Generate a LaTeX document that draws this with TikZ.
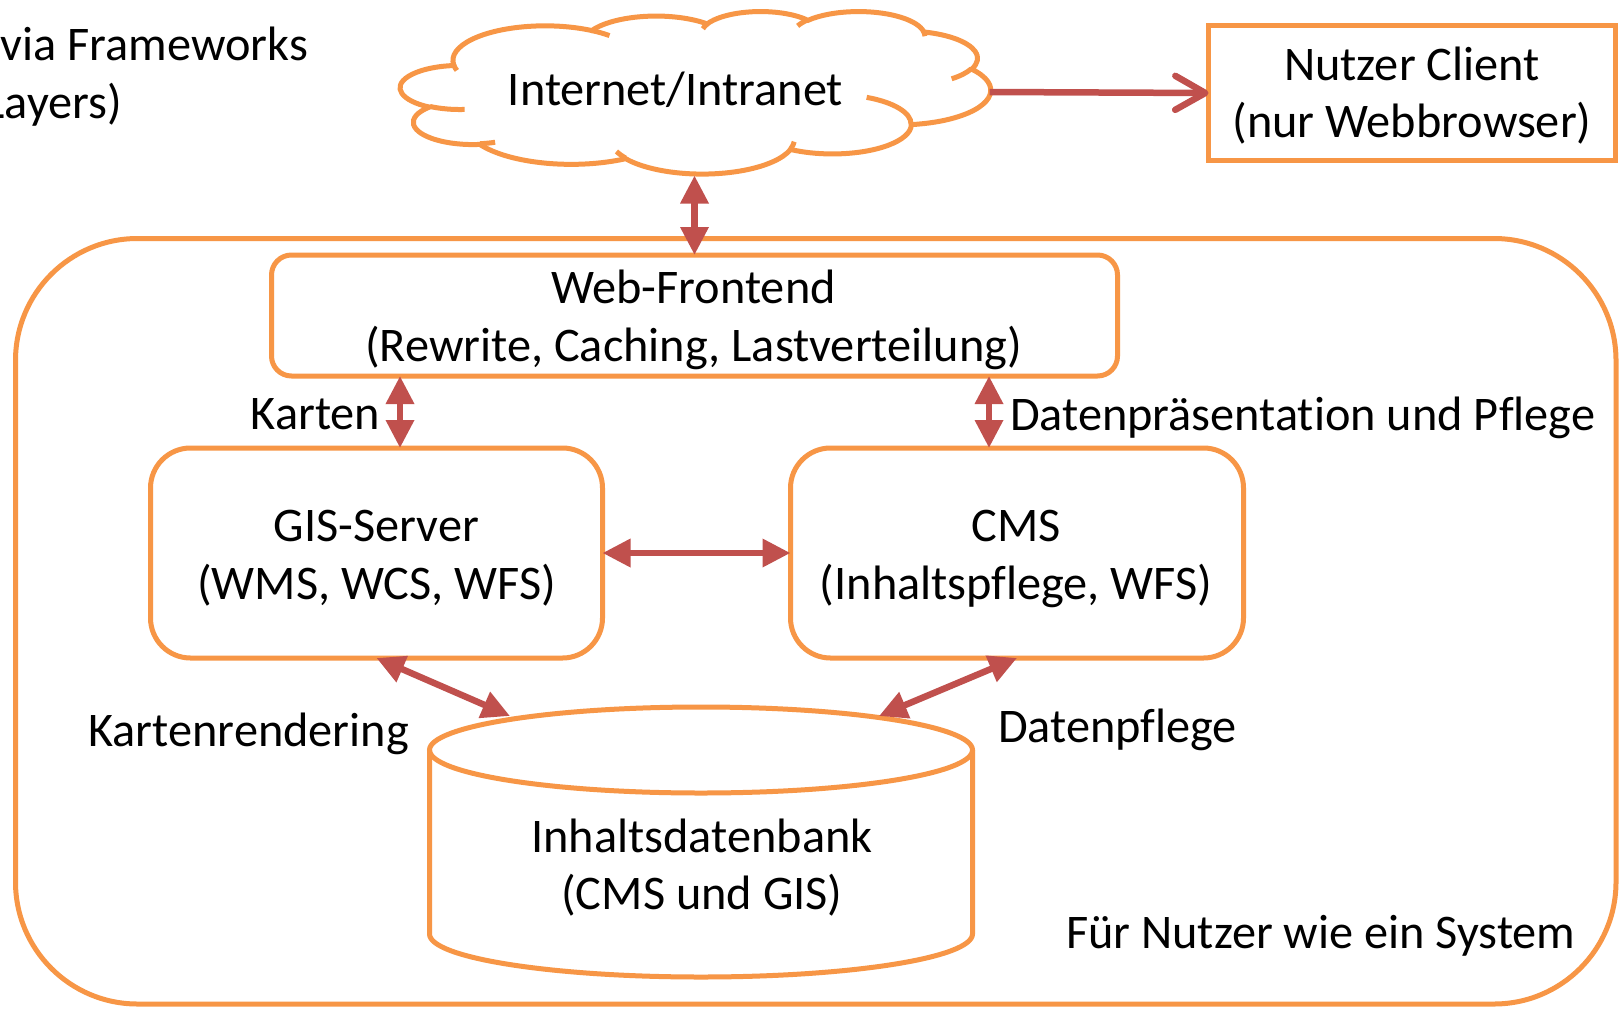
\documentclass[tikz,border=0pt]{standalone}
\usepackage{fontspec}
\setmainfont{Carlito}[Ligatures={NoCommon,NoRare},Contextuals=NoAlternate]
\usetikzlibrary{arrows.meta}
\definecolor{boxorange}{HTML}{F79646}
\definecolor{arrowred}{HTML}{C0504D}
% DrawingML-like arcTo: wR hR stAng swAng (degrees, visual angles)
\newcommand\ooarc[4]{%
  \pgfextra{%
    \pgfmathsetmacro\ooTa{atan2((#1)*sin(#3),(#2)*cos(#3))}%
    \pgfmathsetmacro\ooTb{atan2((#1)*sin((#3)+(#4)),(#2)*cos((#3)+(#4)))}%
    \pgfmathsetmacro\ooD{mod((\ooTb)-(\ooTa)+720,360)}%
    \global\let\ooTa\ooTa \global\let\ooD\ooD}%
  arc[start angle=\ooTa, delta angle=\ooD, x radius=#1, y radius=#2]}
\begin{document}
\begin{tikzpicture}[x=1pt,y=-1pt,
  every node/.style={inner sep=0pt, outer sep=0pt, font=\fontsize{48.3}{57}\selectfont},
  obox/.style={draw=boxorange, line width=5pt, fill=white},
  oline/.style={draw=boxorange, line width=5pt},
  txt/.style={anchor=base},
  dbl/.style={draw=arrowred, line width=6.5pt,
    {Triangle[length=28pt,width=27pt]}-{Triangle[length=28pt,width=27pt]}},
  single/.style={draw=arrowred, line width=6.5pt,
    -{Straight Barb[length=30pt,width=34pt,round]}}]
\useasboundingbox (0,0) rectangle (1621,1009);
\clip (0,0) rectangle (1621,1009);

% outer system frame
\node[obox, rounded corners=122pt, minimum width=1600.5pt, minimum height=765.5pt] (system) at (815.75,621.25) {};

% cloud
\begin{scope}[shift={(400.5,11)}, x=0.136574pt, y=-0.0376157pt]
  \draw[obox] (390,1437)
    \ooarc{675.3}{919.0}{-190.4875}{123.7805}
    \ooarc{533.3}{726.7}{-144.1024}{89.9452}
    \ooarc{436.5}{594.5}{-145.8079}{99.7230}
    \ooarc{485.7}{659.5}{-130.9861}{117.2417}
    \ooarc{533.3}{727.3}{-78.7089}{109.0269}
    \ooarc{677.5}{922.0}{-46.2673}{130.2690}
    \ooarc{578.5}{786.7}{0.6250}{114.0333}
    \ooarc{675.2}{921.5}{22.4516}{115.1726}
    \ooarc{772.0}{1054.3}{66.2426}{75.7110}
    \ooarc{436.0}{591.8}{-274.9421}{146.7356}
    \ooarc{434.5}{594.5}{-246.8285}{152.5189}
    -- cycle;
  \draw[oline]
    (469.3,2617.7) \ooarc{434.5}{594.5}{86.742}{26.4295}
    (692.8,3489.9) \ooarc{436.0}{591.8}{73.6105}{11.4475}
    (1647.8,3909.0) \ooarc{675.2}{921.5}{137.6242}{14.0811}
    (2882.7,3475.1) \ooarc{675.2}{921.5}{6.4533}{15.9984}
    (3412.9,2295.4) \ooarc{578.5}{786.7}{-70.2924}{70.9174}
    (4179.8,1535.4) \ooarc{533.3}{727.3}{30.3180}{27.7515}
    (3832.4,542.6) \ooarc{485.7}{659.5}{-13.7443}{14.8589}
    (2907.8,395.2) \ooarc{485.7}{659.5}{-149.1815}{18.1954}
    (2214.1,472.0) \ooarc{436.5}{594.5}{-163.4943}{17.6864}
    (1400.0,519.2) \ooarc{675.3}{919.0}{-66.7070}{12.3194}
    (412.7,1578.9) \ooarc{675.3}{919.0}{157.6544}{11.8582};
\end{scope}
\node[txt] (cloudT) at (675.5,105) {Internet/Intranet};
\coordinate (cloudS) at (694.5,175.5);
\coordinate (cloudE) at (989.5,92);

% boxes
\node[obox, minimum width=407pt, minimum height=134.4pt] (client) at (1412,93) {};
\node[obox, rounded corners=20pt, minimum width=846pt, minimum height=121pt] (web) at (694.5,315.5) {};
\node[obox, rounded corners=40pt, minimum width=452pt, minimum height=210pt] (gis) at (376.5,553) {};
\node[obox, rounded corners=40pt, minimum width=453pt, minimum height=210pt] (cms) at (1017,553) {};

% database cylinder
\draw[obox] (429.5,750) -- (429.5,934)
  arc[start angle=180, end angle=0, x radius=271.5, y radius=43] -- (972.5,750);
\draw[oline] (701,750) ellipse [x radius=271.5, y radius=43];
\coordinate (dbTL) at (510,716);
\coordinate (dbTR) at (879,716);

% texts
\node[txt, anchor=base east] (fw1) at (308,60) {via Frameworks};
\node[txt, anchor=base east] (fw2) at (122,118) {Layers)};
\node[txt] (clientT1) at (1412,80) {Nutzer Client};
\node[txt] (clientT2) at (1412,137) {(nur Webbrowser)};
\node[txt] (webT1) at (693.5,303) {Web-Frontend};
\node[txt] (webT2) at (693.5,361) {(Rewrite, Caching, Lastverteilung)};
\node[txt] (gisT1) at (376.5,541) {GIS-Server};
\node[txt] (gisT2) at (376.5,599) {(WMS, WCS, WFS)};
\node[txt] (cmsT1) at (1016,541) {CMS};
\node[txt] (cmsT2) at (1016,599) {(Inhaltspflege, WFS)};
\node[txt] (dbT1) at (702,852) {Inhaltsdatenbank};
\node[txt] (dbT2) at (702,909) {(CMS und GIS)};
\node[txt, anchor=base east] (lblKarten) at (380,429) {Karten};
\node[txt, anchor=base west] (lblDaten) at (1010,430) {Datenpräsentation und Pflege};
\node[txt, anchor=base west] (lblRender) at (88.5,746.5) {Kartenrendering};
\node[txt, anchor=base west] (lblPflege) at (998,742) {Datenpflege};
\node[txt, anchor=base west] (lblSystem) at (1066,948) {Für Nutzer wie ein System};

% connectors
\coordinate (kx) at (400,0);
\coordinate (dx) at (989,0);
\draw[single] (cloudE) -- (client.west);
\draw[dbl] (cloudS) -- (cloudS |- web.north);
\draw[dbl] (web.south -| kx) -- (gis.north -| kx);
\draw[dbl] (web.south -| dx) -- (cms.north -| dx);
\draw[dbl] (gis.east) -- (cms.west);
\draw[dbl] (gis.south) -- (dbTL);
\draw[dbl] (cms.south) -- (dbTR);
\end{tikzpicture}
\end{document}
